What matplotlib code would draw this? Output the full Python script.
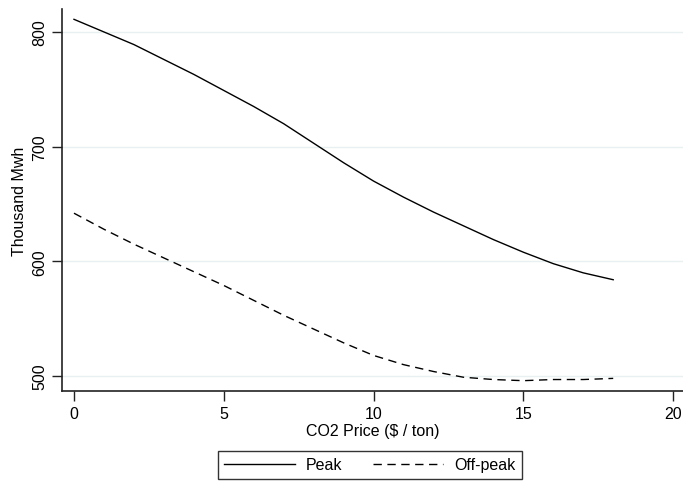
import matplotlib
matplotlib.use("Agg")
import matplotlib.pyplot as plt

price = [0, 1, 2, 3, 4, 5, 6, 7, 8, 9, 10, 11, 12, 13, 14, 15, 16, 17, 18]
peak = [811, 800, 789, 776, 763, 749, 735, 720, 703, 686, 670, 656, 643, 631, 619, 608, 598, 590, 584]
off_peak = [642, 628, 615, 603, 591, 579, 566, 553, 541, 529, 518, 510, 504, 499, 497, 496, 497, 497, 498]

yticks = [500, 600, 700, 800]
xticks = [0, 5, 10, 15, 20]

plt.rcParams["font.family"] = ["Liberation Sans", "DejaVu Sans"]
fs = 11.5

fig = plt.figure(figsize=(6.83, 4.85), dpi=100)
ax = fig.add_axes([62 / 683, 93 / 485, 621 / 683, 382 / 485])

ax.plot(price, peak, color="black", lw=1.0, label="Peak")
ax.plot(price, off_peak, color="black", lw=1.0, ls=(0, (6, 4)), label="Off-peak")

ax.set_xlim(-0.4, 20.33)
ax.set_ylim(487, 820)
ax.set_xticks(xticks)
ax.set_yticks(yticks)
ax.set_yticklabels([str(v) for v in yticks], rotation=90, va="center")
ax.tick_params(length=7, width=1, labelsize=fs, color="#222222")
ax.grid(axis="y", color="#e8f0f2", lw=1)
ax.set_axisbelow(True)
for s in ["top", "right"]:
    ax.spines[s].set_visible(False)
for s in ["left", "bottom"]:
    ax.spines[s].set_linewidth(1.2)
    ax.spines[s].set_color("#222222")

ax.set_xlabel("CO2 Price ($ / ton)", fontsize=fs, labelpad=2)
ax.set_ylabel("Thousand Mwh", fontsize=fs, labelpad=4)

leg = fig.legend(loc="center", bbox_to_anchor=(370 / 683, 1 - 466 / 485), ncol=2,
                 fontsize=fs, frameon=True, fancybox=False, edgecolor="black",
                 handlelength=4.4, handletextpad=0.7, columnspacing=1.9,
                 borderpad=0.4)
leg.get_frame().set_linewidth(1.0)

fig.savefig("out.png", dpi=100)
